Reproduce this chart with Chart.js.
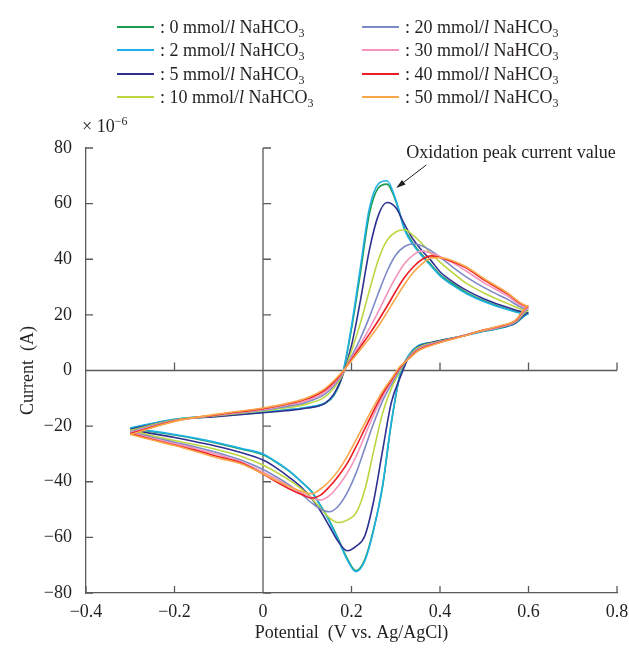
<!DOCTYPE html>
<html>
<head>
<meta charset="utf-8">
<script src="https://cdn.jsdelivr.net/npm/chart.js@4.4.6/dist/chart.umd.min.js"></script>
<style>
  html, body { margin: 0; padding: 0; background: #fff; }
  #wrap { position: relative; width: 629px; height: 653px; font-family: "Liberation Serif", "Times New Roman", serif; color: #231f20; }
  #wrap canvas { position: absolute; left: 0; top: 0; }
  .leg { position: absolute; font-size: 18px; line-height: 20px; white-space: nowrap; }
  .leg .ln { position: absolute; top: 9px; height: 2px; width: 37px; }
  .leg .tx { position: absolute; left: 43px; top: 0; }
  .leg sub { font-size: 12px; vertical-align: -4px; line-height: 0; }
  #scale { position: absolute; left: 82px; top: 116px; font-size: 18px; line-height: 20px; }
  #scale sup { font-size: 12px; vertical-align: 7px; line-height: 0; }
</style>
</head>
<body>
<div id="wrap">
  <canvas id="chart-cv" width="629" height="653"></canvas>
  <div id="legend"></div>
  <div id="scale">× 10<sup>−6</sup></div>
</div>
<script>
// CV curves of the electrode in NaHCO3 solutions (current in 1e-6 A).

const LABELS = ["0", "2", "5", "10", "20", "30", "40", "50"];
const COLORS = ["#1a9b52", "#1fb1e6", "#2e3190", "#bcd642", "#7d8ac6", "#f393bb", "#ec1c24", "#f8a84a"];

// forward (anodic) scan, -0.3 -> 0.6 V
const E_FWD = [-0.3, -0.2, -0.1, 0, 0.05, 0.1, 0.14, 0.16, 0.18, 0.2, 0.22, 0.24, 0.26, 0.28, 0.3, 0.32, 0.34, 0.36, 0.38, 0.4, 0.43, 0.46, 0.5, 0.55, 0.6];
const I_FWD_0  = [-20.8, -17.6, -16.3, -15, -14.3, -13.3, -11.8, -9, -1.5, 15, 35, 56, 65.5, 67, 61, 51, 45.5, 41.5, 38, 34.5, 31, 28, 25, 22.2, 20.3];
const I_FWD_2  = [-20.6, -17.5, -16.2, -14.9, -14.2, -13.2, -11.7, -8.8, -1, 16, 37, 58, 67, 68.2, 61.5, 50.5, 45, 41, 37.5, 34, 30.5, 27.6, 24.7, 22, 20.2];
const I_FWD_5  = [-21.2, -17.8, -16.5, -15.2, -14.5, -13.5, -11.8, -8.5, -1.8, 9, 25, 43, 55.5, 60.4, 58.6, 52.5, 47, 43, 39.5, 35.5, 31.8, 28.8, 25.7, 22.8, 20.8];
const I_FWD_10 = [-21.5, -17.8, -16.2, -14.5, -13.5, -12, -9.5, -6.3, -1.5, 7, 17, 28.5, 39.5, 46.8, 49.8, 50.6, 48.5, 45.5, 42, 39, 35, 31.3, 27.8, 24.3, 21.5];
const I_FWD_20 = [-22, -18, -16, -14.2, -13, -11.3, -8.5, -5.5, -1, 5, 11.5, 19, 27.5, 35.5, 41.5, 44.6, 45.6, 44.8, 43, 40.8, 37, 33.6, 29.8, 25.8, 22];
const I_FWD_30 = [-22.3, -18.1, -15.9, -14, -12.5, -10.8, -7.8, -4.8, -0.8, 4.5, 9.5, 15, 21, 27.5, 33.5, 38.5, 41.6, 43, 42.2, 41, 38.6, 35.7, 31.5, 27, 22.5];
const I_FWD_40 = [-22.7, -18.2, -15.8, -13.7, -12.2, -10.2, -7, -4.2, -0.5, 4, 8.5, 13, 17.8, 23, 28.5, 33.5, 37.3, 40, 41.2, 40.6, 39, 36.8, 32.5, 27.8, 23];
const I_FWD_50 = [-23, -18.3, -15.6, -13.5, -12, -9.8, -6.5, -3.7, -0.3, 3.5, 7.5, 11.5, 15.8, 20.8, 26, 31, 35.3, 38.4, 40.5, 40.6, 39.4, 37.2, 33, 28.2, 23.2];

// reverse (cathodic) scan, 0.6 -> -0.3 V
const E_REV = [0.57, 0.53, 0.49, 0.45, 0.41, 0.38, 0.35, 0.33, 0.31, 0.29, 0.27, 0.25, 0.23, 0.21, 0.19, 0.17, 0.15, 0.13, 0.11, 0.09, 0.06, 0.03, 0, -0.05, -0.1, -0.15, -0.2, -0.25, -0.3];
const I_REV_0  = [17, 15.1, 13.9, 12.4, 11.1, 10.1, 8.8, 5.5, -1.5, -19, -42, -57, -68, -72, -67.5, -60.5, -54, -48.5, -43.5, -40.5, -36.3, -33, -30.3, -28.2, -26.3, -24.6, -23.2, -22, -21];
const I_REV_2  = [16.9, 15, 13.8, 12.3, 11, 10, 8.8, 5.7, -1, -18.5, -41.5, -57.5, -68.5, -72.3, -68, -61, -54.3, -48.7, -43.7, -40.5, -36.2, -32.8, -30, -28, -26.1, -24.4, -23, -21.8, -20.8];
const I_REV_5  = [17.1, 15.2, 14, 12.4, 11, 10, 8.5, 5, -2.5, -11.5, -29, -47, -59.5, -63.2, -64.8, -61.5, -56, -50.5, -46, -42.5, -38.5, -35, -32.2, -29.5, -27.4, -25.7, -24.1, -22.7, -21.3];
const I_REV_10 = [17.3, 15.3, 14, 12.4, 10.9, 9.8, 8.2, 5, 0, -6.5, -15.5, -29, -43, -51.3, -53.8, -54.7, -53, -49.5, -46, -43, -39.5, -36.6, -34, -30.8, -28.6, -26.8, -25.2, -23.5, -21.6];
const I_REV_20 = [17.5, 15.4, 14.1, 12.4, 10.8, 9.6, 7.8, 4.8, 0.5, -5, -11, -19, -28, -37, -44, -48.8, -50.8, -49.8, -47.6, -44.8, -41.2, -38.2, -35.6, -32.2, -29.7, -27.6, -25.8, -24, -22];
const I_REV_30 = [17.7, 15.5, 14.1, 12.4, 10.7, 9.4, 7.5, 4.6, 1, -4, -9.5, -16, -23.5, -31, -37, -41.5, -45, -46.6, -45.7, -44.2, -41.7, -39, -36.6, -32.8, -30.3, -28.2, -26.3, -24.5, -22.3];
const I_REV_40 = [17.9, 15.7, 14.2, 12.3, 10.6, 9.2, 7.2, 4.4, 1.2, -3.5, -8.5, -14.5, -21, -27.5, -33.5, -38, -41.8, -44.8, -45.9, -44.8, -42.6, -40, -37.2, -33.2, -31, -28.8, -26.8, -24.8, -22.7];
const I_REV_50 = [18, 15.8, 14.2, 12.2, 10.5, 9, 7, 4.2, 1.5, -3, -7.5, -13, -19, -25, -31, -36, -39.8, -42.6, -44.3, -43.6, -41.8, -39.6, -37.1, -33.5, -31.5, -29.2, -27, -25, -23];

const FWD = [I_FWD_0, I_FWD_2, I_FWD_5, I_FWD_10, I_FWD_20, I_FWD_30, I_FWD_40, I_FWD_50];
const REV = [I_REV_0, I_REV_2, I_REV_5, I_REV_10, I_REV_20, I_REV_30, I_REV_40, I_REV_50];

const X_TICKS = [-0.4, -0.2, 0, 0.2, 0.4, 0.6, 0.8];
const Y_TICKS = [-80, -60, -40, -20, 0, 20, 40, 60, 80];

// annotation (data units)
const NOTE_TEXT = "Oxidation peak current value";
const NOTE_AT = { x: 0.324, y: 78.2 };
const ARROW_FROM = { x: 0.369, y: 73.9 };
const ARROW_TO = { x: 0.301, y: 65.6 };

const AXIS_COLOR = "#5a5a5a";
const FONT = "'Liberation Serif', 'Times New Roman', serif";

function fmt(v) {
  const s = String(Math.abs(v));
  return v < 0 ? "\u2212" + s : s;
}

function buildLegend() {
  const box = document.getElementById("legend");
  const cols = [117, 362];
  const rows = [16.5, 40, 63.5, 87];
  LABELS.forEach((lab, i) => {
    const d = document.createElement("div");
    d.className = "leg";
    d.style.left = cols[Math.floor(i / 4)] + "px";
    d.style.top = rows[i % 4] + "px";
    d.innerHTML = `<span class="ln" style="background:${COLORS[i]}"></span>` +
      `<span class="tx">: ${lab} mmol/<i>l</i> NaHCO<sub>3</sub></span>`;
    box.appendChild(d);
  });
}

// cross lines through the origin and inward tick marks
const axesPlugin = {
  id: "cvAxes",
  beforeDatasetsDraw(chart) {
    const { ctx, chartArea: a, scales: { x, y } } = chart;
    const x0 = x.getPixelForValue(0), y0 = y.getPixelForValue(0);
    ctx.save();
    ctx.strokeStyle = AXIS_COLOR;
    ctx.lineWidth = 1.3;
    ctx.beginPath();
    ctx.moveTo(x0, a.top); ctx.lineTo(x0, a.bottom);
    ctx.moveTo(a.left, y0); ctx.lineTo(a.right, y0);
    for (const v of Y_TICKS) {
      const py = y.getPixelForValue(v);
      ctx.moveTo(a.left, py); ctx.lineTo(a.left + 7, py);
      ctx.moveTo(x0, py); ctx.lineTo(x0 + 8, py);
    }
    for (const v of X_TICKS) {
      const px = x.getPixelForValue(v);
      ctx.moveTo(px, a.bottom); ctx.lineTo(px, a.bottom - 7);
      if (v !== -0.4) { ctx.moveTo(px, y0); ctx.lineTo(px, y0 - 8); }
    }
    ctx.stroke();
    ctx.restore();
  },
  afterDraw(chart) {
    const { ctx, scales: { x, y } } = chart;
    ctx.save();
    ctx.fillStyle = "#231f20";
    ctx.font = `18px ${FONT}`;
    ctx.textBaseline = "middle";
    ctx.fillText(NOTE_TEXT, x.getPixelForValue(NOTE_AT.x), y.getPixelForValue(NOTE_AT.y));
    const x1 = x.getPixelForValue(ARROW_FROM.x), y1 = y.getPixelForValue(ARROW_FROM.y);
    const x2 = x.getPixelForValue(ARROW_TO.x), y2 = y.getPixelForValue(ARROW_TO.y);
    const ang = Math.atan2(y2 - y1, x2 - x1);
    ctx.strokeStyle = "#231f20";
    ctx.lineWidth = 1;
    ctx.beginPath();
    ctx.moveTo(x1, y1);
    ctx.lineTo(x2 - 6 * Math.cos(ang), y2 - 6 * Math.sin(ang));
    ctx.stroke();
    ctx.beginPath();
    ctx.moveTo(x2, y2);
    ctx.lineTo(x2 - 10 * Math.cos(ang - 0.3), y2 - 10 * Math.sin(ang - 0.3));
    ctx.lineTo(x2 - 10 * Math.cos(ang + 0.3), y2 - 10 * Math.sin(ang + 0.3));
    ctx.closePath();
    ctx.fill();
    ctx.restore();
  },
};

function boot() {
  buildLegend();
  const datasets = LABELS.map((lab, i) => ({
    label: `${lab} mmol/l NaHCO3`,
    data: [
      ...E_FWD.map((e, k) => ({ x: e, y: FWD[i][k] })),
      ...E_REV.map((e, k) => ({ x: e, y: REV[i][k] })),
    ],
    borderColor: COLORS[i],
    borderWidth: 1.6,
    pointRadius: 0,
    showLine: true,
    cubicInterpolationMode: "monotone",
    order: LABELS.length - i,
  }));

  new Chart(document.getElementById("chart-cv"), {
    type: "scatter",
    data: { datasets },
    options: {
      responsive: false,
      animation: false,
      events: [],
      layout: { padding: { top: 148, right: 12, left: 0, bottom: 0 } },
      plugins: { legend: { display: false }, tooltip: { enabled: false } },
      scales: {
        x: {
          type: "linear", min: -0.4, max: 0.8,
          afterFit(s) { s.height = 60; s.paddingLeft = 0; s.paddingRight = 0; },
          afterBuildTicks(s) { s.ticks = X_TICKS.map(v => ({ value: v })); },
          grid: { display: false },
          border: { display: true, color: AXIS_COLOR, width: 1.3 },
          ticks: { color: "#231f20", font: { family: FONT, size: 18 }, padding: 0, callback: fmt, maxRotation: 0 },
          title: { display: true, text: "Potential\u2002(V vs. Ag/AgCl)", color: "#231f20", font: { family: FONT, size: 18 }, padding: { bottom: 9 } },
        },
        y: {
          type: "linear", min: -80, max: 80,
          afterFit(s) { s.width = 86; s.paddingTop = 0; s.paddingBottom = 0; },
          afterBuildTicks(s) { s.ticks = Y_TICKS.map(v => ({ value: v })); },
          grid: { display: false },
          border: { display: true, color: AXIS_COLOR, width: 1.3 },
          ticks: { color: "#231f20", font: { family: FONT, size: 18 }, padding: 6, callback: fmt },
          title: { display: true, text: "Current\u2002(A)", color: "#231f20", font: { family: FONT, size: 18 }, padding: { top: 17 } },
        },
      },
    },
    plugins: [axesPlugin],
  });
}

boot();
</script>
</body>
</html>
